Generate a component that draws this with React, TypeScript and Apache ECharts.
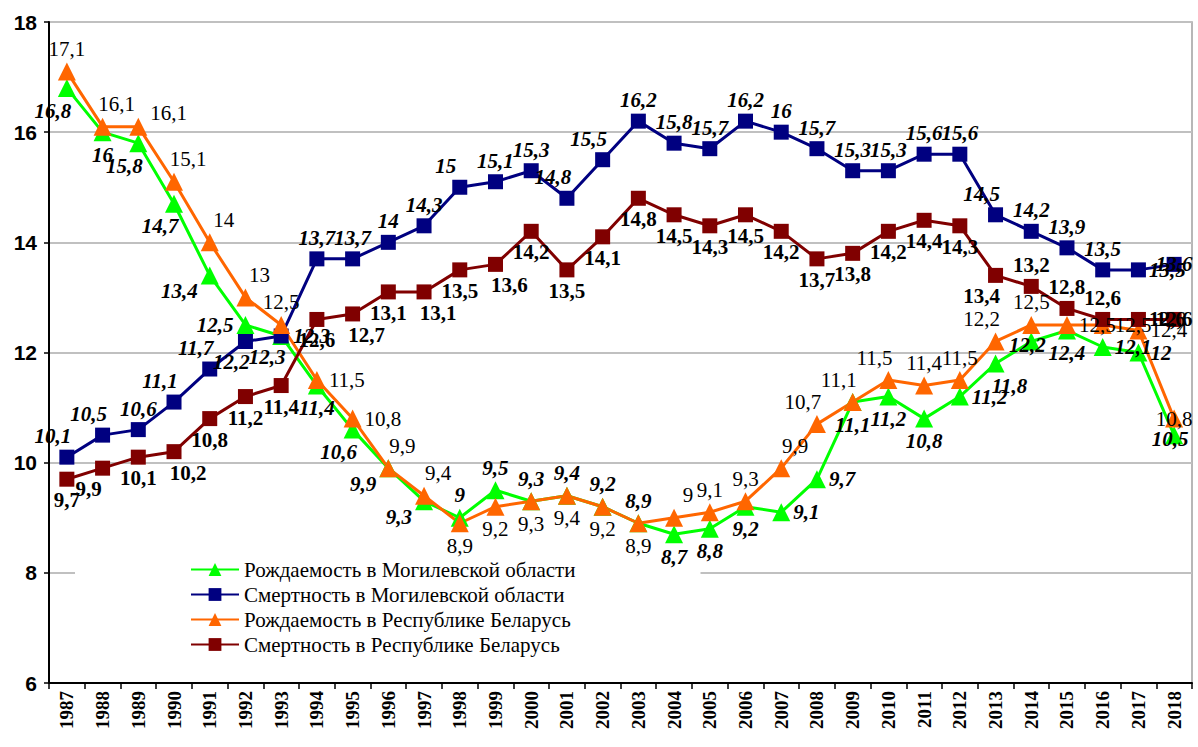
import React, { useEffect, useRef } from "react";
import * as echarts from "echarts";

const years = ["1987","1988","1989","1990","1991","1992","1993","1994","1995","1996","1997","1998","1999","2000","2001","2002","2003","2004","2005","2006","2007","2008","2009","2010","2011","2012","2013","2014","2015","2016","2017","2018"];

const birthMogilev = [16.8,16,15.8,14.7,13.4,12.5,12.3,11.4,10.6,9.9,9.3,9,9.5,9.3,9.4,9.2,8.9,8.7,8.8,9.2,9.1,9.7,11.1,11.2,10.8,11.2,11.8,12.2,12.4,12.1,12,10.5];
const deathMogilev = [10.1,10.5,10.6,11.1,11.7,12.2,12.3,13.7,13.7,14,14.3,15,15.1,15.3,14.8,15.5,16.2,15.8,15.7,16.2,16,15.7,15.3,15.3,15.6,15.6,14.5,14.2,13.9,13.5,13.5,13.6];
const birthBelarus = [17.1,16.1,16.1,15.1,14,13,12.5,11.5,10.8,9.9,9.4,8.9,9.2,9.3,9.4,9.2,8.9,9,9.1,9.3,9.9,10.7,11.1,11.5,11.4,11.5,12.2,12.5,12.5,12.5,12.4,10.8];
const deathBelarus = [9.7,9.9,10.1,10.2,10.8,11.2,11.4,12.6,12.7,13.1,13.1,13.5,13.6,14.2,13.5,14.1,14.8,14.5,14.3,14.5,14.2,13.7,13.8,14.2,14.4,14.3,13.4,13.2,12.8,12.6,12.6,12.6];

const seriesNames = [
  "Рождаемость в Могилевской области",
  "Смертность в Могилевской области",
  "Рождаемость в Республике Беларусь",
  "Смертность в Республике Беларусь",
];

// label placement codes (style config, one per year)
const posGreen = "BL B BL BL LB L R B BL LB LB T T T T T T B B B R R B B B R BR IB B R R IB".split(" ");
const posBlue = "TL TL T TL TL BL BL T T T T TL T T TL TL T T T T T T T T T T TL T T T R I".split(" ");
const posOrange = "T TR RT TR TR TR T R R TR TR B B B B B B TR T T TR TL TL TL T T TL T R R R I".split(" ");
const posRed = "B BL B BR B B B B BR B BR B BR B B B B B B B B B B B B B BL T T T R I".split(" ");

function labelFor(code: string) {
  switch (code) {
    case "T": return { position: "top", offset: [0, 0] };
    case "TL": return { position: "top", offset: [-14, 0] };
    case "TR": return { position: "top", offset: [14, 0] };
    case "B": return { position: "bottom", offset: [0, 0] };
    case "BL": return { position: "bottom", offset: [-14, 0] };
    case "BR": return { position: "bottom", offset: [14, 0] };
    case "L": return { position: "left", offset: [0, 0] };
    case "LB": return { position: "left", offset: [0, 16] };
    case "R": return { position: "right", offset: [0, 0] };
    case "RT": return { position: "right", offset: [0, -14] };
    case "IB": return { position: "inside", offset: [-4, 4] };
    default: return { position: "inside", offset: [0, 0] };
  }
}

function buildData(values: number[], codes: string[]) {
  return values.map((v, i) => ({ value: v, label: labelFor(codes[i]) }));
}

const fmt = (p: any) => String(p.value).replace(".", ",");

export default function App() {
  const ref = useRef<HTMLDivElement>(null);
  useEffect(() => {
    if (!ref.current) return;
    const chart = echarts.init(ref.current, null, { renderer: "svg" });
    const serif = "Liberation Serif";
    const mkSeries = (
      name: string,
      values: number[],
      codes: string[],
      color: string,
      symbol: string,
      size: number,
      fontStyle: string,
      fontWeight: string
    ) => ({
      name,
      type: "line",
      data: buildData(values, codes),
      symbol,
      symbolSize: size,
      lineStyle: { color, width: 3 },
      itemStyle: { color },
      label: {
        show: true,
        formatter: fmt,
        fontFamily: serif,
        fontSize: 21,
        fontStyle,
        fontWeight,
        color: "#000",
        distance: 3,
      },
      z: 3,
    });
    chart.setOption({
      animation: false,
      backgroundColor: "#fff",
      grid: {
        left: 49,
        right: 6,
        top: 22,
        bottom: 64,
        show: true,
        borderColor: "#a0a0a0",
        borderWidth: 1.5,
      },
      legend: {
        orient: "vertical",
        left: 75,
        top: 553,
        z: 1,
        padding: [6, 125, 6, 115],
        backgroundColor: "#fff",
        itemWidth: 48,
        itemHeight: 16,
        itemGap: 4,
        data: seriesNames,
        textStyle: { fontFamily: serif, fontSize: 21, color: "#000" },
      },
      xAxis: {
        type: "category",
        data: years,
        boundaryGap: true,
        axisLine: { lineStyle: { color: "#000", width: 2 } },
        axisTick: { show: true, interval: 0, length: 6, lineStyle: { color: "#000", width: 1.5 } },
        axisLabel: {
          interval: 0,
          rotate: 90,
          margin: 8,
          fontFamily: serif,
          fontWeight: "bold",
          fontSize: 19,
          color: "#000",
        },
        splitLine: { show: false },
      },
      yAxis: {
        type: "value",
        min: 6,
        max: 18,
        interval: 2,
        axisLine: { show: true, lineStyle: { color: "#000", width: 2 } },
        axisTick: { show: true, length: 5, lineStyle: { color: "#000", width: 1.5 } },
        axisLabel: {
          margin: 12,
          fontFamily: "Liberation Sans",
          fontWeight: "bold",
          fontSize: 21,
          color: "#000",
        },
        splitLine: { show: true, lineStyle: { color: "#c0c0c0", width: 2 } },
      },
      series: [
        mkSeries(seriesNames[0], birthMogilev, posGreen, "#00ff00", "triangle", 18, "italic", "bold"),
        mkSeries(seriesNames[1], deathMogilev, posBlue, "#000080", "rect", 15, "italic", "bold"),
        mkSeries(seriesNames[2], birthBelarus, posOrange, "#ff6600", "triangle", 18, "normal", "normal"),
        mkSeries(seriesNames[3], deathBelarus, posRed, "#800000", "rect", 15, "normal", "bold"),
      ],
    });
    return () => chart.dispose();
  }, []);
  return (
    <div
      ref={ref}
      style={{ position: "fixed", left: 0, top: 0, width: 1198, height: 747 }}
    />
  );
}
